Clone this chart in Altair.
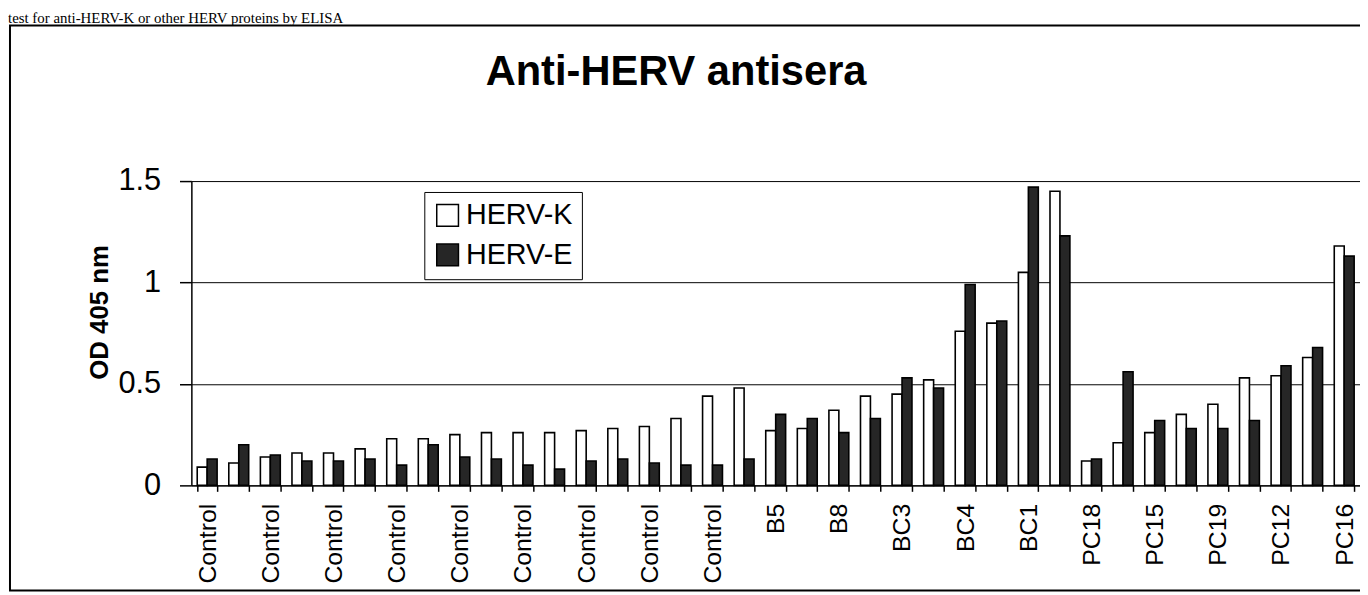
import altair as alt
import pandas as pd

# ---- data ----
series_names = ["HERV-K", "HERV-E"]
sample_labels = ["Control", "Control", "Control", "Control", "Control", "Control",
                 "Control", "Control", "Control", "B5", "B8", "BC3", "BC4", "BC1",
                 "PC18", "PC15", "PC19", "PC12", "PC16"]
herv_k = [0.09, 0.11, 0.14, 0.16, 0.16, 0.18, 0.23, 0.23, 0.25, 0.26, 0.26, 0.26,
          0.27, 0.28, 0.29, 0.33, 0.44, 0.48, 0.27, 0.28, 0.37, 0.44, 0.45, 0.52,
          0.76, 0.80, 1.05, 1.45, 0.12, 0.21, 0.26, 0.35, 0.40, 0.53, 0.54, 0.63, 1.18]
herv_e = [0.13, 0.20, 0.15, 0.12, 0.12, 0.13, 0.10, 0.20, 0.14, 0.13, 0.10, 0.08,
          0.12, 0.13, 0.11, 0.10, 0.10, 0.13, 0.35, 0.33, 0.26, 0.33, 0.53, 0.48,
          0.99, 0.81, 1.47, 1.23, 0.13, 0.56, 0.32, 0.28, 0.28, 0.32, 0.59, 0.68, 1.13]
y_ticks = [0, 0.5, 1, 1.5]
title_text = "Anti-HERV antisera"
y_title = "OD 405 nm"
page_text = "test for anti-HERV-K or other HERV proteins by ELISA"

n = len(herv_k)
rows = []
for i in range(n):
    rows.append({"g": i, "series": series_names[0], "od": herv_k[i]})
    rows.append({"g": i, "series": series_names[1], "od": herv_e[i]})
df = pd.DataFrame(rows)

tick_text = [sample_labels[i // 2] if i % 2 == 0 else "" for i in range(n)]
label_expr = "[" + ",".join("'%s'" % t for t in tick_text) + "][datum.value]"

FONT = "Liberation Sans"
W, H = 1179, 307

bars = alt.Chart(df).mark_bar(stroke="black", strokeWidth=1.6).encode(
    x=alt.X("g:O",
            scale=alt.Scale(paddingInner=0.37, paddingOuter=0.185),
            axis=alt.Axis(title=None, labelExpr=label_expr, labelAngle=270,
                          labelAlign="right", labelBaseline="middle",
                          labelFont=FONT, labelFontSize=25, labelColor="black",
                          labelPadding=12, labelOverlap=False, labelBound=False,
                          tickBand="extent", tickSize=6, tickColor="black",
                          tickWidth=1.5, domainColor="black", domainWidth=1.5,
                          grid=False)),
    xOffset=alt.XOffset("series:N", sort=series_names,
                        scale=alt.Scale(domain=series_names, paddingInner=0, paddingOuter=0)),
    y=alt.Y("od:Q",
            scale=alt.Scale(domain=[0, 1.5], nice=False),
            axis=alt.Axis(values=y_ticks, format="~g", title=y_title,
                          titleFont=FONT, titleFontSize=26, titleFontWeight="bold",
                          titleColor="black", titleX=-80, titleY=132,
                          labelFont=FONT, labelFontSize=31, labelColor="black",
                          labelPadding=19, tickSize=12, tickColor="black",
                          tickWidth=1.5, domainColor="black", domainWidth=1.5,
                          grid=True, gridColor="black", gridWidth=1)),
    color=alt.Color("series:N", sort=series_names,
                    scale=alt.Scale(domain=series_names, range=["white", "#262626"]),
                    legend=alt.Legend(title=None, orient="none", legendX=235, legendY=11,
                                      symbolType="square", symbolSize=480,
                                      symbolStrokeColor="black", symbolStrokeWidth=1.5,
                                      labelFont=FONT, labelFontSize=29, labelColor="black",
                                      labelOffset=4, rowPadding=10, padding=9,
                                      strokeColor="black", fillColor="white")),
)

one = pd.DataFrame({"k": [0]})

frame = alt.Chart(one).mark_rect(
    fillOpacity=0, stroke="black", strokeWidth=2
).encode(x=alt.value(-183), x2=alt.value(1200), y=alt.value(-157), y2=alt.value(413))

top_line = alt.Chart(one).mark_text(
    align="left", baseline="alphabetic", font="Liberation Serif", fontSize=15, color="black"
).encode(x=alt.value(-185), y=alt.value(-159), text=alt.value(page_text))

title = alt.Chart(one).mark_text(
    align="center", baseline="alphabetic", font=FONT, fontSize=42, fontWeight="bold",
    color="black"
).encode(x=alt.value(489), y=alt.value(-97), text=alt.value(title_text))

chart = alt.layer(frame, top_line, title, bars).properties(
    width=W, height=H,
    autosize=alt.AutoSizeParams(type="none"),
    padding={"left": 185, "top": 172, "right": 0, "bottom": 110},
    background="white",
).configure_view(stroke=None)

chart.save("out.html", embed_options={"renderer": "svg", "actions": False})
